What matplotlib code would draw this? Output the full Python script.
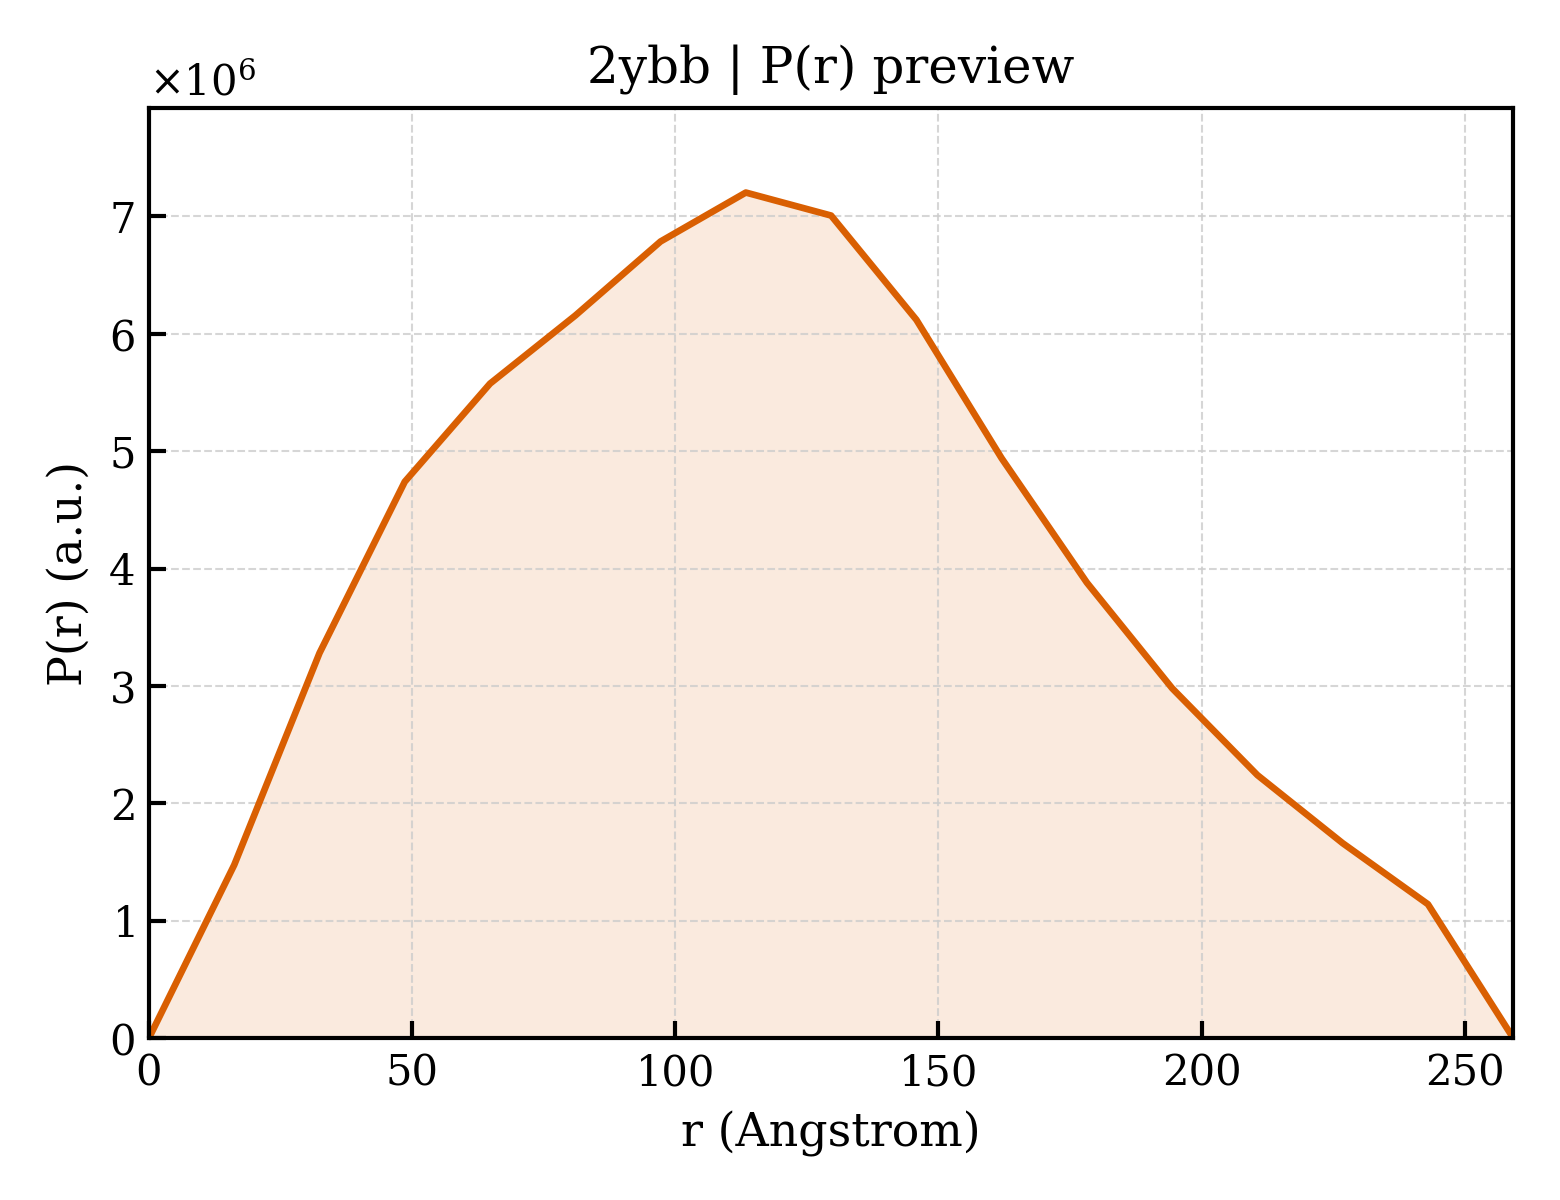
import numpy as np
import matplotlib
matplotlib.use("Agg")
import matplotlib.pyplot as plt

r_values = [0.0, 16.2, 32.4, 48.6, 64.8, 81.0, 97.2, 113.4, 129.6, 145.8,
            162.0, 178.2, 194.4, 210.6, 226.8, 243.0, 259.2]
pr_values = [0.0, 1.475e6, 3.28e6, 4.74e6, 5.576e6, 6.156e6, 6.787e6, 7.204e6,
             7.008e6, 6.12e6, 4.94e6, 3.88e6, 2.98e6, 2.24e6, 1.66e6, 1.14e6, 0.0]

plt.rcParams['font.family'] = ['DejaVu Serif']
plt.rcParams['mathtext.fontset'] = 'dejavuserif'

fig, ax = plt.subplots(figsize=(5.2, 4.0), dpi=300)
color = '#d95f02'
ax.fill_between(r_values, pr_values, 0, color=color, alpha=0.13, linewidth=0)
ax.plot(r_values, pr_values, color=color, linewidth=1.6)

ax.set_xlim(0, max(r_values))
ax.set_ylim(0, max(pr_values) * 1.1)
ax.set_xticks([0, 50, 100, 150, 200, 250])
ax.ticklabel_format(axis='y', style='sci', scilimits=(0, 0), useMathText=True)
ax.tick_params(direction='in', labelsize=10, length=4, width=1)
ax.grid(True, linestyle='--', linewidth=0.5, color='#cccccc', alpha=0.8)
for s in ax.spines.values():
    s.set_linewidth(1.0)
ax.set_xlabel('r (Angstrom)', fontsize=11)
ax.set_ylabel('P(r) (a.u.)', fontsize=11)
ax.set_title('2ybb | P(r) preview', fontsize=12)
ax.yaxis.get_offset_text().set_fontsize(10)

fig.subplots_adjust(left=0.0955, right=0.97, bottom=0.135, top=0.91)
fig.savefig('out.png', dpi=300)
